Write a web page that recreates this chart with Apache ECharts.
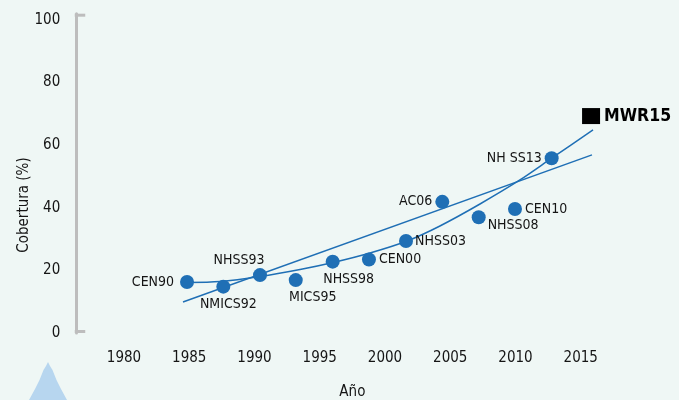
<!DOCTYPE html>
<html>
<head>
<meta charset="utf-8">
<script src="https://cdn.jsdelivr.net/npm/echarts@6/dist/echarts.min.js"></script>
<style>
html,body{margin:0;padding:0;background:#eff7f5;}
#c{width:679px;height:400px;}
</style>
</head>
<body>
<div id="c"></div>
<script>
// ---- data ----
const surveys = ['CEN90','NMICS92','NHSS93','MICS95','NHSS98','CEN00','NHSS03','AC06','NHSS08','CEN10','NH SS13'];
const years = [1984.83,1987.61,1990.42,1993.16,1995.99,1998.77,2001.61,2004.39,2007.18,2009.96,2012.77];
const coverage = [16.3,14.8,18.5,16.9,22.8,23.5,29.4,41.9,37.0,39.6,55.8];
const mwrName = ['MWR15'];
const mwrYear = [2015.79];
const mwrValue = [69.3];
const linearYears = [1984.52, 2015.86];
const linearValues = [9.9, 56.9];
const curveYears = [1984.83,1987.36,1990.42,1993.49,1996.02,1998.85,2001.69,2004.21,2007.28,2010.34,2012.80,2015.94];
const curveValues = [16.13,16.45,18.05,20.29,22.52,25.56,29.39,34.19,41.21,48.88,55.91,64.86];
const xTicks = [1980,1985,1990,1995,2000,2005,2010,2015];
const yTicks = [0,20,40,60,80,100];

// ---- style ----
const FONT = "'Liberation Sans Narrow','Arial Narrow','DejaVu Sans Condensed',sans-serif";
const BLUE = '#1f6fb5';
const TXT = '#151515';
const labelStyle = {
  'CEN90':   {position:'left', distance:6},
  'NMICS92': {position:'bottom', distance:4, offset:[5,0]},
  'NHSS93':  {position:'top', distance:1, offset:[-21,0]},
  'MICS95':  {position:'bottom', distance:3, offset:[17,0]},
  'NHSS98':  {position:'bottom', distance:4, offset:[16,0]},
  'CEN00':   {position:'right', distance:3},
  'NHSS03':  {position:'right', distance:2},
  'AC06':    {position:'left', distance:3},
  'NHSS08':  {position:'right', distance:2, offset:[0,8]},
  'CEN10':   {position:'right', distance:3},
  'NH SS13': {position:'left', distance:3}
};

const chart = echarts.init(document.getElementById('c'), null, {renderer:'canvas'});

const pts = surveys.map((n,i)=>({
  name:n, value:[years[i], coverage[i]],
  label:Object.assign({show:true, formatter:'{b}', color:TXT, fontSize:14, fontFamily:FONT}, labelStyle[n])
}));

const option = {
  backgroundColor:'#eff7f5',
  animation:false,
  grid:{left:58.75, right:33, top:13.7, bottom:67, containLabel:false, outerBoundsMode:'none'},
  xAxis:{
    type:'value', min:1975, max:2020, interval:5,
    name:'Año', nameLocation:'middle', nameGap:52,
    nameTextStyle:{fontFamily:FONT, fontSize:15, color:TXT},
    axisLine:{show:false}, axisTick:{show:false}, splitLine:{show:false},
    axisLabel:{margin:18, fontFamily:FONT, fontSize:15, color:TXT,
      formatter:v=> xTicks.includes(v) ? String(v) : ''}
  },
  yAxis:{
    type:'value', min:0, max:102, interval:20, offset:-17.5,
    axisLine:{show:true, lineStyle:{color:'#bdbdbd', width:3}},
    axisTick:{show:false}, splitLine:{show:false},
    axisLabel:{margin:16, fontFamily:FONT, fontSize:15, color:TXT,
      formatter:v=> yTicks.includes(v) ? String(v) : ''}
  },
  series:[
    {type:'line', data:linearYears.map((x,i)=>[x,linearValues[i]]), showSymbol:false, symbol:'none',
     lineStyle:{color:BLUE, width:1.5}, z:2},
    {type:'line', data:curveYears.map((x,i)=>[x,curveValues[i]]), showSymbol:false, symbol:'none',
     smooth:0.3, lineStyle:{color:BLUE, width:1.5}, z:2},
    {type:'scatter', data:pts, symbol:'circle', symbolSize:14, itemStyle:{color:BLUE, opacity:1}, z:3},
    {type:'scatter', data:mwrName.map((n,i)=>({name:n, value:[mwrYear[i], mwrValue[i]]})),
     symbol:'rect', symbolSize:[18,16], itemStyle:{color:'#000', opacity:1}, z:3,
     label:{show:true, position:'right', distance:4, formatter:'{b}', color:'#000', fontWeight:'bold', fontSize:17.5, fontFamily:FONT}}
  ]
};
chart.setOption(option);

// bracket ends + decorations
const pTop = chart.convertToPixel({gridIndex:0}, [1975, 102]);
const pBot = chart.convertToPixel({gridIndex:0}, [1975, 0]);
const axX = pTop[0] + 17.5;
chart.setOption({
  graphic:[
    {type:'line', shape:{x1:axX-1.5, y1:pTop[1]+1.5, x2:axX+9, y2:pTop[1]+1.5}, style:{stroke:'#bdbdbd', lineWidth:3}},
    {type:'line', shape:{x1:axX-1.5, y1:pBot[1]-1.5, x2:axX+9, y2:pBot[1]-1.5}, style:{stroke:'#bdbdbd', lineWidth:3}},
    {type:'text', x:24, y:205, rotation:Math.PI/2, style:{text:'Cobertura (%)', font:"15px "+FONT, fill:TXT, textAlign:'center', textVerticalAlign:'middle'}},
    {type:'polygon', shape:{points:[[48,362],[50,366],[52.5,370],[56.5,380],[61,389],[67,400],[29,400],[35,389],[39.5,380],[43.5,370],[46,366]]}, style:{fill:'#b7d6ef'}}
  ]
});
</script>
</body>
</html>
